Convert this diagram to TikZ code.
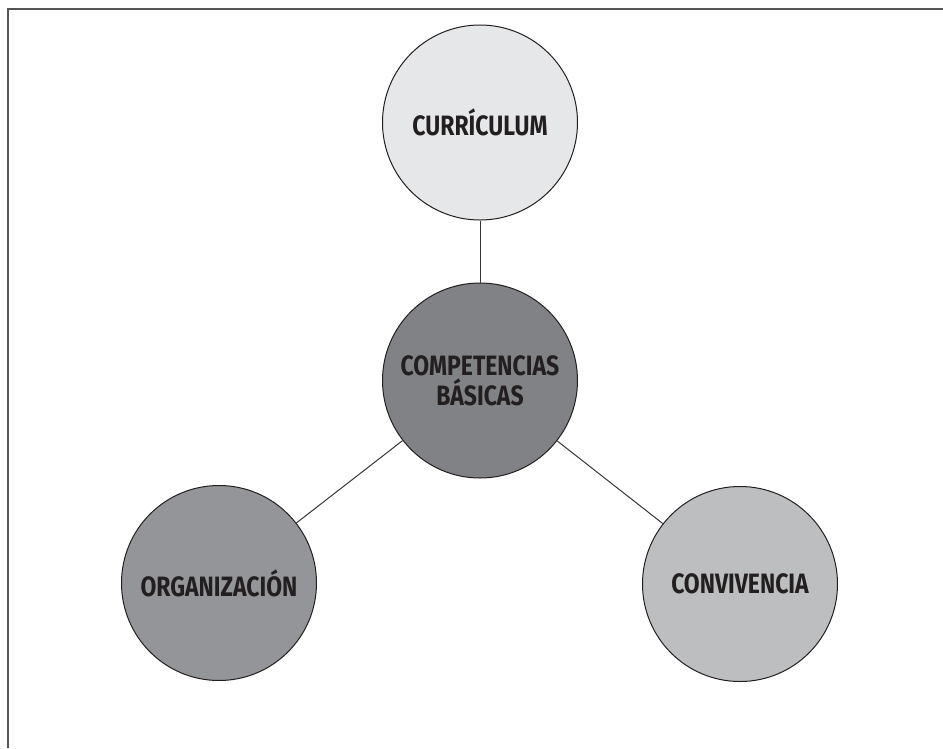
\documentclass[tikz,border=0pt]{standalone}
\usepackage{fontspec}
\setmainfont{Fira Sans}[FakeStretch=0.82]
\definecolor{c10}{HTML}{E6E7E8}
\definecolor{c60}{HTML}{808285}
\definecolor{c50}{HTML}{939598}
\definecolor{c30}{HTML}{BCBEC0}
\definecolor{txt}{HTML}{231F20}
\definecolor{frame}{HTML}{555555}
\begin{document}
\begin{tikzpicture}[x=1pt,y=-1pt,
  bubble/.style={circle,draw=txt,line width=1pt,minimum size=195pt,inner sep=0pt,
    font=\fontsize{28}{30}\selectfont\bfseries,text=txt,align=center},
  link/.style={draw=txt!90,line width=1pt}]
\useasboundingbox (0,0) rectangle (943,748);
\draw[frame,line width=2pt] (8,748) -- (8,9) -- (943,9);
\node[bubble,fill=c10] (cur) at (480,122.5) {CURRÍCULUM};
\node[bubble,fill=c60] (comp) at (480,380.5) {COMPETENCIAS\\BÁSICAS};
\node[bubble,fill=c50] (org) at (219,583) {ORGANIZACIÓN};
\node[bubble,fill=c30] (conv) at (740,584) {CONVIVENCIA};
\draw[link] (cur) -- (comp);
\draw[link] (comp) -- (org);
\draw[link] (comp) -- (conv);
\end{tikzpicture}
\end{document}
